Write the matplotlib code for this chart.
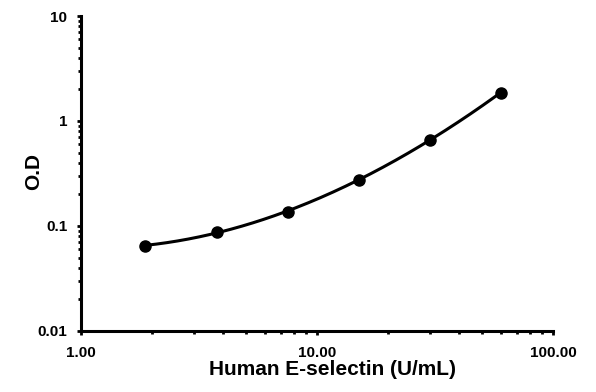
import numpy as np
import matplotlib
matplotlib.use("Agg")
import matplotlib.pyplot as plt
from matplotlib.ticker import FixedLocator, FixedFormatter, LogLocator, NullFormatter

# --- data ---
conc = [1.875, 3.75, 7.5, 15, 30, 60]
od = [0.065, 0.087, 0.137, 0.275, 0.66, 1.86]

x_ticks = [1, 10, 100]
x_tick_labels = ["1.00", "10.00", "100.00"]
y_ticks = [0.01, 0.1, 1, 10]
y_tick_labels = ["0.01", "0.1", "1", "10"]

plt.rcParams['font.family'] = ['Liberation Sans', 'DejaVu Sans']
plt.rcParams['font.weight'] = 'bold'

fig = plt.figure(figsize=(5.96, 3.92), dpi=100)
ax = fig.add_axes([0.136, 0.156, 0.792, 0.803])

# smooth curve through the points (cubic fit in log-log space)
lx = np.log10(conc)
ly = np.log10(od)
coef = np.polyfit(lx, ly, 3)
xs = np.linspace(lx[0], lx[-1], 200)
ax.plot(10 ** xs, 10 ** np.polyval(coef, xs), color='black', lw=2.2)
ax.plot(conc, od, 'o', color='black', ms=8)

ax.set_xscale('log')
ax.set_yscale('log')
ax.set_xlim(1, 100)
ax.set_ylim(0.01, 10)

ax.xaxis.set_major_locator(FixedLocator(x_ticks))
ax.xaxis.set_major_formatter(FixedFormatter(x_tick_labels))
ax.yaxis.set_major_locator(FixedLocator(y_ticks))
ax.yaxis.set_major_formatter(FixedFormatter(y_tick_labels))
ax.xaxis.set_minor_locator(LogLocator(base=10, subs=np.arange(2, 10)))
ax.yaxis.set_minor_locator(LogLocator(base=10, subs=np.arange(2, 10)))
ax.xaxis.set_minor_formatter(NullFormatter())
ax.yaxis.set_minor_formatter(NullFormatter())

for s in ['top', 'right']:
    ax.spines[s].set_visible(False)
for s in ['left', 'bottom']:
    ax.spines[s].set_linewidth(2.2)

ax.tick_params(which='major', direction='out', length=3, width=2, labelsize=11)
ax.tick_params(axis='x', which='major', pad=8)
ax.tick_params(axis='y', which='major', pad=7)
ax.tick_params(which='minor', direction='out', length=2, width=2)

ax.set_xlabel("Human E-selectin (U/mL)", fontsize=15, fontweight='bold')
ax.set_ylabel("O.D", fontsize=15, fontweight='bold')
ax.xaxis.set_label_coords(0.532, -0.092)
ax.yaxis.set_label_coords(-0.08, 0.507)

fig.savefig("out.png", dpi=100)
